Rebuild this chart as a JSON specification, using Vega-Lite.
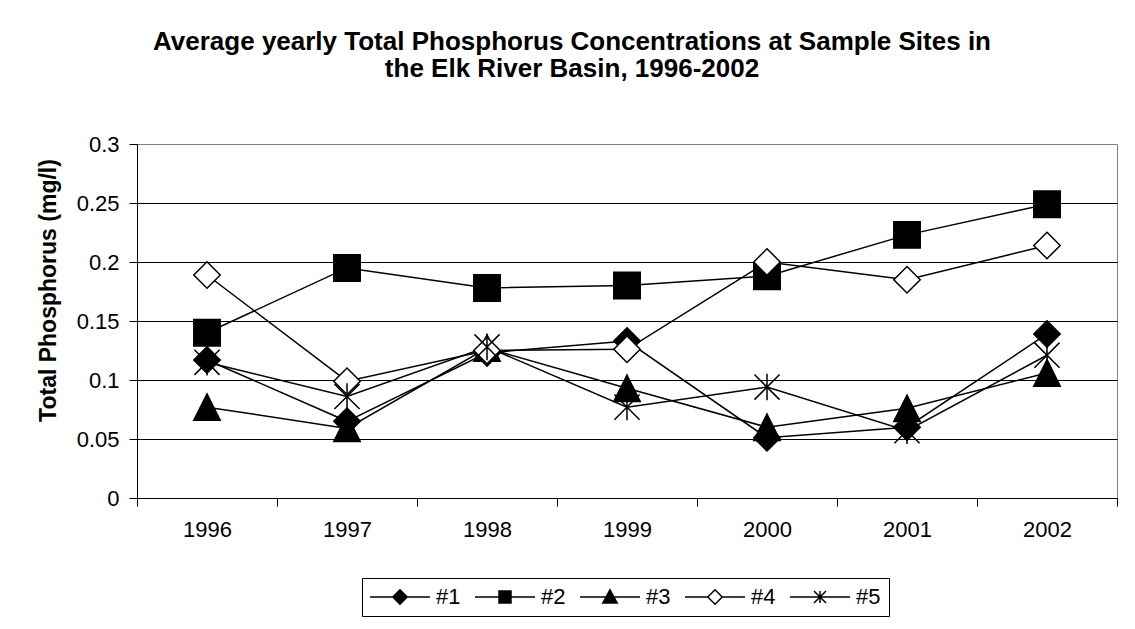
{
  "$schema": "https://vega.github.io/schema/vega-lite/v6.json",
  "width": 980,
  "height": 354,
  "autosize": {"type": "none"},
  "padding": {"left": 137, "top": 144, "right": 18, "bottom": 131},
  "background": "white",
  "title": {
    "text": ["Average yearly Total Phosphorus Concentrations at Sample Sites in", "the Elk River Basin, 1996-2002"],
    "font": "Liberation Sans",
    "fontSize": 26,
    "fontWeight": "bold",
    "color": "black",
    "anchor": "middle",
    "dx": -55,
    "lineHeight": 27,
    "offset": 51
  },
  "data": {
    "values": [
      {"year": "1996", "site": "#1", "tp": 0.117},
      {"year": "1996", "site": "#2", "tp": 0.140},
      {"year": "1996", "site": "#3", "tp": 0.077},
      {"year": "1996", "site": "#4", "tp": 0.189},
      {"year": "1996", "site": "#5", "tp": 0.115},
      {"year": "1997", "site": "#1", "tp": 0.065},
      {"year": "1997", "site": "#2", "tp": 0.195},
      {"year": "1997", "site": "#3", "tp": 0.059},
      {"year": "1997", "site": "#4", "tp": 0.099},
      {"year": "1997", "site": "#5", "tp": 0.086},
      {"year": "1998", "site": "#1", "tp": 0.123},
      {"year": "1998", "site": "#2", "tp": 0.178},
      {"year": "1998", "site": "#3", "tp": 0.127},
      {"year": "1998", "site": "#4", "tp": 0.125},
      {"year": "1998", "site": "#5", "tp": 0.128},
      {"year": "1999", "site": "#1", "tp": 0.133},
      {"year": "1999", "site": "#2", "tp": 0.180},
      {"year": "1999", "site": "#3", "tp": 0.093},
      {"year": "1999", "site": "#4", "tp": 0.126},
      {"year": "1999", "site": "#5", "tp": 0.077},
      {"year": "2000", "site": "#1", "tp": 0.051},
      {"year": "2000", "site": "#2", "tp": 0.188},
      {"year": "2000", "site": "#3", "tp": 0.060},
      {"year": "2000", "site": "#4", "tp": 0.200},
      {"year": "2000", "site": "#5", "tp": 0.094},
      {"year": "2001", "site": "#1", "tp": 0.060},
      {"year": "2001", "site": "#2", "tp": 0.223},
      {"year": "2001", "site": "#3", "tp": 0.076},
      {"year": "2001", "site": "#4", "tp": 0.185},
      {"year": "2001", "site": "#5", "tp": 0.057},
      {"year": "2002", "site": "#1", "tp": 0.139},
      {"year": "2002", "site": "#2", "tp": 0.249},
      {"year": "2002", "site": "#3", "tp": 0.106},
      {"year": "2002", "site": "#4", "tp": 0.214},
      {"year": "2002", "site": "#5", "tp": 0.121}
    ]
  },
  "encoding": {
    "x": {
      "field": "year",
      "type": "ordinal",
      "scale": {"type": "band", "paddingInner": 0, "paddingOuter": 0},
      "axis": {
        "title": null,
        "labelAngle": 0,
        "tickBand": "extent",
        "tickSize": 8,
        "tickColor": "black",
        "domainColor": "black",
        "labelPadding": 13,
        "labelFontSize": 22,
        "labelColor": "black",
        "grid": false
      }
    },
    "y": {
      "field": "tp",
      "type": "quantitative",
      "scale": {"domain": [0, 0.3], "nice": false},
      "axis": {
        "title": "Total Phosphorus (mg/l)",
        "values": [0, 0.05, 0.1, 0.15, 0.2, 0.25, 0.3],
        "format": "~g",
        "grid": true,
        "gridColor": {"condition": {"test": "datum.value >= 0.3", "value": "#808080"}, "value": "black"},
        "gridOpacity": 1,
        "gridWidth": 1,
        "tickSize": 8,
        "tickColor": "black",
        "domainColor": "black",
        "labelPadding": 10,
        "labelFontSize": 22,
        "labelColor": "black",
        "titleFontSize": 23,
        "titleFontWeight": "bold",
        "titleColor": "black",
        "titleX": -89,
        "titleY": 146,
        "titleAngle": -90,
        "titleAlign": "center",
        "titleBaseline": "middle"
      }
    }
  },
  "layer": [
    {
      "mark": {"type": "line", "color": "black", "strokeWidth": 1.5},
      "encoding": {"detail": {"field": "site"}}
    },
    {
      "mark": {"type": "point", "stroke": "black", "strokeWidth": 1.5, "opacity": 1, "size": 700},
      "encoding": {
        "shape": {
          "field": "site",
          "type": "nominal",
          "scale": {
            "domain": ["#1", "#2", "#3", "#4", "#5"],
            "range": [
              "M0,-1L1,0L0,1L-1,0Z",
              "M-1,-1H1V1H-1Z",
              "M0,-1L1,1L-1,1Z",
              "M0,-1L1,0L0,1L-1,0Z",
              "M-0.95,-0.95L0.95,0.95M-0.95,0.95L0.95,-0.95M0,-1L0,1"
            ]
          },
          "legend": null
        },
        "fill": {"condition": {"test": "datum.site === '#4'", "value": "white"}, "value": "black"}
      }
    },
    {
      "transform": [{"filter": "false"}],
      "mark": {"type": "point", "opacity": 1, "strokeWidth": 1.5},
      "encoding": {
        "shape": {
          "field": "site",
          "type": "nominal",
          "scale": {
            "domain": ["#1", "#2", "#3", "#4", "#5"],
            "range": [
              "M-5,0H5M0,-1.2L1.2,0L0,1.2L-1.2,0Z",
              "M-5,0H5M-1,-1H1V1H-1Z",
              "M-5,0H5M0,-1.2L1.2,1L-1.2,1Z",
              "M-5,0H-1.2M1.2,0H5M0,-1.2L1.2,0L0,1.2L-1.2,0Z",
              "M-5,0H5M-1,-1L1,1M-1,1L1,-1M0,-1L0,1"
            ]
          },
          "legend": {
            "title": null,
            "orient": "none",
            "legendX": 225,
            "legendY": 434,
            "direction": "horizontal",
            "columns": 5,
            "strokeColor": "black",
            "fillColor": "white",
            "padding": 8,
            "labelFontSize": 22,
            "labelColor": "black",
            "symbolSize": 144,
            "symbolStrokeWidth": 1.5,
            "symbolOpacity": 1,
            "symbolOffset": 19,
            "labelOffset": 25,
            "columnPadding": 11
          }
        },
        "fill": {
          "field": "site",
          "type": "nominal",
          "scale": {
            "domain": ["#1", "#2", "#3", "#4", "#5"],
            "range": ["black", "black", "black", "white", "black"]
          },
          "legend": {
            "title": null,
            "orient": "none",
            "legendX": 225,
            "legendY": 434,
            "direction": "horizontal",
            "columns": 5,
            "strokeColor": "black",
            "fillColor": "white",
            "padding": 8,
            "labelFontSize": 22,
            "labelColor": "black",
            "symbolSize": 144,
            "symbolStrokeWidth": 1.5,
            "symbolOpacity": 1,
            "symbolOffset": 19,
            "labelOffset": 25,
            "columnPadding": 11
          }
        },
        "stroke": {
          "field": "site",
          "type": "nominal",
          "scale": {
            "domain": ["#1", "#2", "#3", "#4", "#5"],
            "range": ["black", "black", "black", "black", "black"]
          },
          "legend": {
            "title": null,
            "orient": "none",
            "legendX": 225,
            "legendY": 434,
            "direction": "horizontal",
            "columns": 5,
            "strokeColor": "black",
            "fillColor": "white",
            "padding": 8,
            "labelFontSize": 22,
            "labelColor": "black",
            "symbolSize": 144,
            "symbolStrokeWidth": 1.5,
            "symbolOpacity": 1,
            "symbolOffset": 19,
            "labelOffset": 25,
            "columnPadding": 11
          }
        }
      }
    }
  ],
  "resolve": {"scale": {"shape": "independent", "fill": "independent", "stroke": "independent"}},
  "config": {
    "font": "Liberation Sans",
    "view": {"stroke": "#808080", "strokeWidth": 1}
  }
}
